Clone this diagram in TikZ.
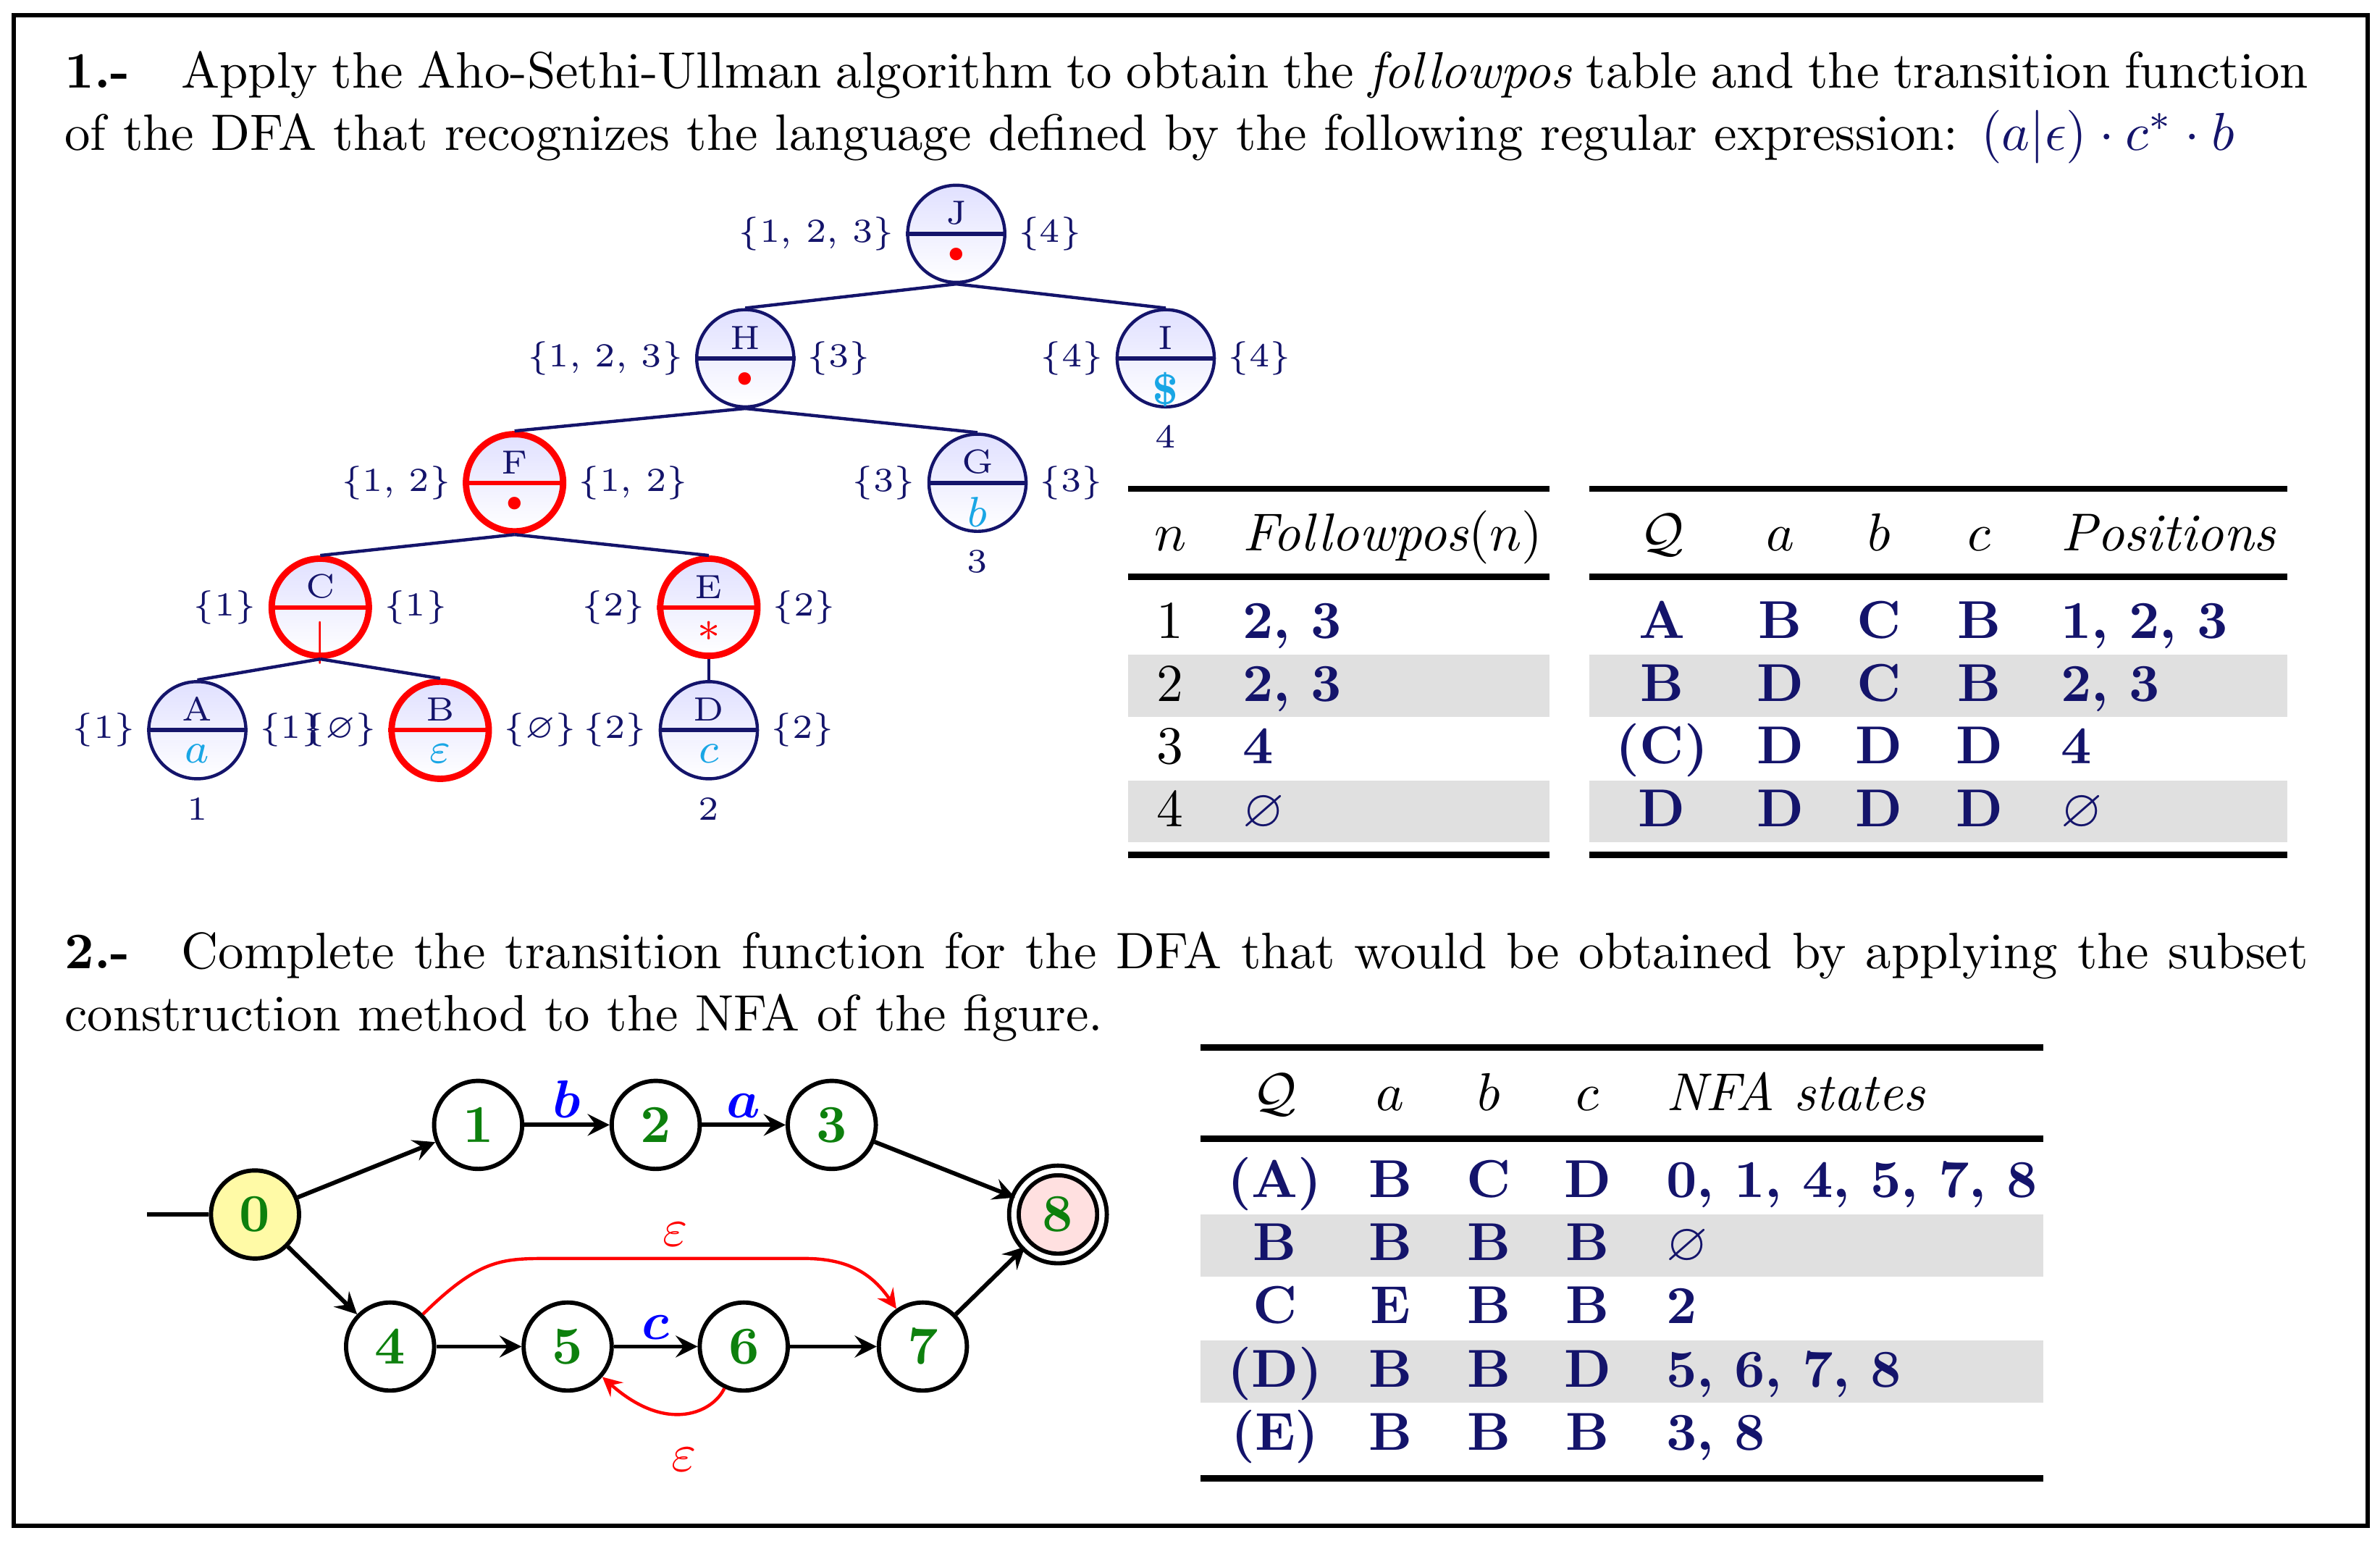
\documentclass[tikz,border=0pt]{standalone}
\usepackage{amsmath,amssymb}
\usetikzlibrary{arrows,positioning,shapes.misc}
\tikzset{>={latex}}
\definecolor{navy}{rgb}{0.08,0.08,0.42}
\definecolor{sky}{rgb}{0.1,0.65,0.9}
\definecolor{dgreen}{rgb}{0.05,0.5,0.05}
\definecolor{rowgray}{gray}{0.88}
\tikzset{
	tn/.style={circle, draw=navy, semithick, minimum size=0.64cm, inner sep=0pt, top color=blue!12, bottom color=white},
	tr/.style={tn, draw=red, very thick},
	edge/.style={navy, semithick},
	lbl/.style={text=navy, font=\fontsize{6.3}{7.5}\selectfont, inner sep=1pt},
	st/.style={circle, draw, thick, minimum size=0.58cm, inner sep=0pt, font=\bfseries, text=dgreen, fill=white},
	tr_arrow/.style={->, >=stealth, thick},
	rule/.style={line width=1.2pt},
	bodyt/.style={text=navy, font=\bfseries, anchor=mid}
}

\begin{document}
\begin{tikzpicture}
	\useasboundingbox (0,0) rectangle (15.68,-10.15);
	\draw[line width=0.8pt] (0.09,-0.10) rectangle (15.60,-10.05);

	% exercise 1
	\node[anchor=north west, text width=14.78cm, align=justify, inner sep=0pt, font=\fontsize{9.6}{11.7}\selectfont] (ex1) at (0.42,-0.33)
		{\textbf{1.-}\quad Apply the Aho-Sethi-Ullman algorithm to obtain the \textit{followpos} table and the transition function of the DFA that recognizes the language defined by the following regular expression: \textcolor{navy}{$(a|\epsilon)\cdot c^{*}\cdot b$}};

	% syntax tree
	\node[tn] (J) at (6.30,-1.54) {};
	\node[tn] (H) at (4.91,-2.36) {};
	\node[tn] (I) at (7.68,-2.36) {};
	\node[tr] (F) at (3.39,-3.18) {};
	\node[tn] (G) at (6.44,-3.18) {};
	\node[tr] (C) at (2.11,-4.00) {};
	\node[tr] (E) at (4.67,-4.00) {};
	\node[tn] (A) at (1.30,-4.81) {};
	\node[tr] (B) at (2.90,-4.81) {};
	\node[tn] (D) at (4.67,-4.81) {};

	\foreach \n/\s/\c/\w/\e in {
		J/{\textcolor{red}{\textbullet}}/navy/{\{1, 2, 3\}}/{\{4\}},
		H/{\textcolor{red}{\textbullet}}/navy/{\{1, 2, 3\}}/{\{3\}},
		I/{\textcolor{sky}{\boldmath$\$$}}/navy/{\{4\}}/{\{4\}},
		F/{\textcolor{red}{\textbullet}}/red/{\{1, 2\}}/{\{1, 2\}},
		G/{\textcolor{sky}{$b$}}/navy/{\{3\}}/{\{3\}},
		C/{\textcolor{red}{$|$}}/red/{\{1\}}/{\{1\}},
		E/{\textcolor{red}{$*$}}/red/{\{2\}}/{\{2\}},
		A/{\textcolor{sky}{$a$}}/navy/{\{1\}}/{\{1\}},
		B/{\textcolor{sky}{$\varepsilon$}}/red/{\{$\varnothing$\}}/{\{$\varnothing$\}},
		D/{\textcolor{sky}{$c$}}/navy/{\{2\}}/{\{2\}}} {
		\draw[\c, thick] (\n.west) -- (\n.east);
		\node[lbl, above=0.5pt] at (\n.center) {\n};
		\node[lbl, below=1.5pt, font=\footnotesize] at (\n.center) {\s};
		\node[lbl, left=1pt] at (\n.west) {\w};
		\node[lbl, right=1pt] at (\n.east) {\e};
	}
	\node[lbl, below=2pt] (posA) at (A.south) {1};
	\node[lbl, below=2pt] (posD) at (D.south) {2};
	\node[lbl, below=2pt] (posG) at (G.south) {3};
	\node[lbl, below=2pt] (posI) at (I.south) {4};

	\draw[edge] (J.south) -- (H.north);
	\draw[edge] (J.south) -- (I.north);
	\draw[edge] (H.south) -- (F.north);
	\draw[edge] (H.south) -- (G.north);
	\draw[edge] (F.south) -- (C.north);
	\draw[edge] (F.south) -- (E.north);
	\draw[edge] (C.south) -- (A.north);
	\draw[edge] (C.south) -- (B.north);
	\draw[edge] (E.south) -- (D.north);

	% followpos table
	\fill[rowgray] (7.43,-4.31) rectangle (10.21,-4.72);
	\fill[rowgray] (7.43,-5.14) rectangle (10.21,-5.55);
	\draw[rule] (7.43,-3.22) -- (10.21,-3.22);
	\draw[rule] (7.43,-3.80) -- (10.21,-3.80);
	\draw[rule] (7.43,-5.63) -- (10.21,-5.63);
	\node[anchor=mid] at (7.71,-3.55) {$n$};
	\node[anchor=mid west, inner sep=0pt] at (8.18,-3.55) {\textit{Followpos}($n$)};
	\foreach \i/\v [count=\k] in {1/{2, 3}, 2/{2, 3}, 3/4, 4/{$\varnothing$}} {
		\node[anchor=mid] at (7.71,-4.13-0.413*\k+0.413) {\i};
		\node[bodyt, anchor=mid west, inner sep=0pt] at (8.18,-4.13-0.413*\k+0.413) {\v};
	}

	% dfa table 1
	\fill[rowgray] (10.47,-4.31) rectangle (15.07,-4.72);
	\fill[rowgray] (10.47,-5.14) rectangle (15.07,-5.55);
	\draw[rule] (10.47,-3.22) -- (15.07,-3.22);
	\draw[rule] (10.47,-3.80) -- (15.07,-3.80);
	\draw[rule] (10.47,-5.63) -- (15.07,-5.63);
	\node[anchor=mid] at (10.95,-3.55) {$\mathcal{Q}$};
	\node[anchor=mid] at (11.73,-3.55) {$a$};
	\node[anchor=mid] at (12.38,-3.55) {$b$};
	\node[anchor=mid] at (13.04,-3.55) {$c$};
	\node[anchor=mid west, inner sep=0pt] at (13.57,-3.55) {\textit{Positions}};
	\foreach \q/\a/\b/\c/\p [count=\k] in {A/B/C/B/{1, 2, 3}, B/D/C/B/{2, 3}, (C)/D/D/D/4, D/D/D/D/{$\varnothing$}} {
		\node[bodyt] at (10.95,-4.13-0.413*\k+0.413) {\q};
		\node[bodyt] at (11.73,-4.13-0.413*\k+0.413) {\a};
		\node[bodyt] at (12.38,-4.13-0.413*\k+0.413) {\b};
		\node[bodyt] at (13.04,-4.13-0.413*\k+0.413) {\c};
		\node[bodyt, anchor=mid west, inner sep=0pt] at (13.57,-4.13-0.413*\k+0.413) {\p};
	}

	% exercise 2
	\node[anchor=north west, text width=14.78cm, align=justify, inner sep=0pt, font=\fontsize{9.6}{11.7}\selectfont] (ex2) at (0.42,-6.13)
		{\textbf{2.-}\quad Complete the transition function for the DFA that would be obtained by applying the subset construction method to the NFA of the figure.};

	% nfa
	\node[st, fill=yellow!35] (s0) at (1.68,-8.00) {0};
	\node[st] (s1) at (3.15,-7.41) {1};
	\node[st] (s2) at (4.32,-7.41) {2};
	\node[st] (s3) at (5.48,-7.41) {3};
	\node[st, double, double distance=1pt, fill=red!12] (s8) at (6.97,-8.00) {8};
	\node[st] (s4) at (2.57,-8.87) {4};
	\node[st] (s5) at (3.74,-8.87) {5};
	\node[st] (s6) at (4.90,-8.87) {6};
	\node[st] (s7) at (6.08,-8.87) {7};
	\coordinate (start) at (0.97,-8.00);

	\draw[thick] (start) -- (s0);
	\draw[tr_arrow] (s0) -- (s1);
	\draw[tr_arrow] (s1) -- node[above, text=blue, inner sep=1pt] {$\boldsymbol{b}$} (s2);
	\draw[tr_arrow] (s2) -- node[above, text=blue, inner sep=1pt] {$\boldsymbol{a}$} (s3);
	\draw[tr_arrow] (s3) -- (s8);
	\draw[tr_arrow] (s0) -- (s4);
	\draw[tr_arrow] (s4) -- (s5);
	\draw[tr_arrow] (s5) -- node[above, text=blue, inner sep=1pt] {$\boldsymbol{c}$} (s6);
	\draw[tr_arrow] (s6) -- (s7);
	\draw[tr_arrow] (s7) -- (s8);
	\draw[->, >=stealth, red, semithick] (s4) .. controls (3.15,-8.30) and (3.30,-8.29) .. (3.60,-8.29)
		-- node[above, inner sep=2pt] {$\varepsilon$} (5.30,-8.29) .. controls (5.60,-8.29) and (5.75,-8.40) .. (s7);
	\draw[->, >=stealth, red, semithick] (s6) .. controls (4.70,-9.30) and (4.40,-9.45) .. node[below=3pt] {$\varepsilon$} (s5);

	% dfa table 2
	\fill[rowgray] (7.91,-8.00) rectangle (13.46,-8.41);
	\fill[rowgray] (7.91,-8.83) rectangle (13.46,-9.24);
	\draw[rule] (7.91,-6.90) -- (13.46,-6.90);
	\draw[rule] (7.91,-7.50) -- (13.46,-7.50);
	\draw[rule] (7.91,-9.74) -- (13.46,-9.74);
	\node[anchor=mid] at (8.40,-7.24) {$\mathcal{Q}$};
	\node[anchor=mid] at (9.16,-7.24) {$a$};
	\node[anchor=mid] at (9.81,-7.24) {$b$};
	\node[anchor=mid] at (10.46,-7.24) {$c$};
	\node[anchor=mid west, inner sep=0pt] at (10.97,-7.24) {\textit{NFA states}};
	\foreach \q/\a/\b/\c/\p [count=\k] in {(A)/B/C/D/{0, 1, 4, 5, 7, 8}, B/B/B/B/{$\varnothing$}, C/E/B/B/2, (D)/B/B/D/{5, 6, 7, 8}, (E)/B/B/B/{3, 8}} {
		\node[bodyt] at (8.40,-7.81-0.417*\k+0.417) {\q};
		\node[bodyt] at (9.16,-7.81-0.417*\k+0.417) {\a};
		\node[bodyt] at (9.81,-7.81-0.417*\k+0.417) {\b};
		\node[bodyt] at (10.46,-7.81-0.417*\k+0.417) {\c};
		\node[bodyt, anchor=mid west, inner sep=0pt] at (10.97,-7.81-0.417*\k+0.417) {\p};
	}
\end{tikzpicture}
\end{document}
